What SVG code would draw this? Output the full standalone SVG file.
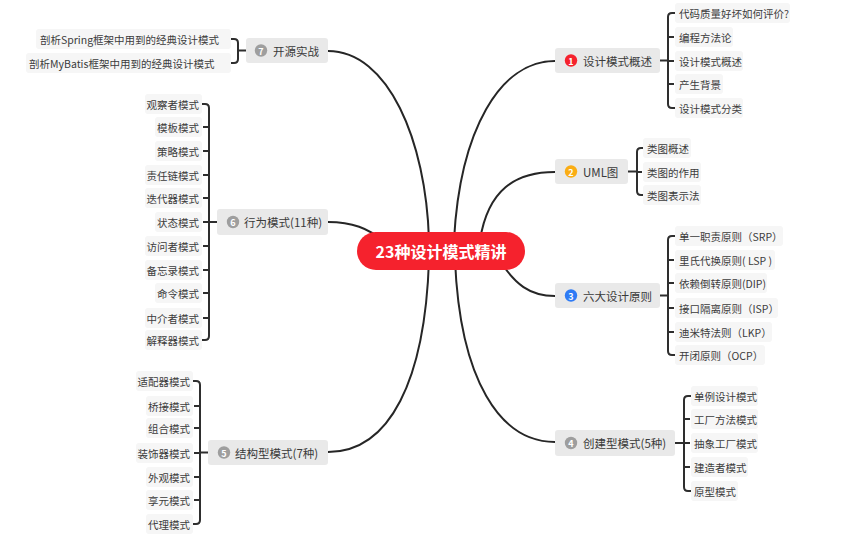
<svg xmlns="http://www.w3.org/2000/svg" width="867" height="557" viewBox="0 0 867 557">
<style>
text{font-family:"Noto Sans CJK SC","Noto Sans",sans-serif;dominant-baseline:central}
.main{fill:none;stroke:#262626;stroke-width:2}
.br{fill:none;stroke:#2e2e2e;stroke-width:2}
.l1 rect{fill:#e9e9e9}
.l1 text.t{font-size:11.5px;fill:#3a3a3a}
.ic text{font-size:9px;font-weight:bold;fill:#fff;text-anchor:middle}
.c rect{fill:#f6f6f6}
.c text{font-size:10.5px;fill:#3c3c3c}
.e text{text-anchor:end}
</style>
<rect width="867" height="557" fill="#fff"/>
<g id="connectors">
<path class="main" d="M328,51 C388,51 426,140 429,240"/>
<path class="main" d="M454,240 C460,130 500,61 555,61"/>
<path class="main" d="M480,240 C488,190 515,172 555,172"/>
<path class="main" d="M328,222 C352,222 368,228 385,242"/>
<path class="main" d="M498,258 C515,285 530,296 555,296"/>
<path class="main" d="M455,260 C460,380 500,442 555,442"/>
<path class="main" d="M429,260 C425,380 390,452 328,452"/>
<path class="br" d="M660,60.5H668M675,13h-3q-4,0 -4,4V104q0,4 4,4h3M668,37h6M668,61h6M668,84h6"/>
<path class="br" d="M628,171.5H637M643,148h-2q-4,0 -4,4V191q0,4 4,4h2M637,172h5"/>
<path class="br" d="M660,295.5H668M675,236h-3q-4,0 -4,4V351q0,4 4,4h3M668,260h6M668,283h6M668,308h6M668,332h6"/>
<path class="br" d="M675,443H684M691,396h-3q-4,0 -4,4V487q0,4 4,4h3M684,419h6M684,443h6M684,467h6"/>
<path class="br" d="M246,50.5H238M231,39h3q4,0 4,4V59q0,4 -4,4h-3"/>
<path class="br" d="M217,222H209M202,104h3q4,0 4,4V336q0,4 -4,4h-3M209,127h-6M209,151h-6M209,175h-6M209,198h-6M209,222h-6M209,246h-6M209,270h-6M209,293h-6M209,318h-6"/>
<path class="br" d="M208,452.5H200M193,381h3q4,0 4,4V520q0,4 -4,4h-3M200,406h-6M200,428h-6M200,453h-6M200,477h-6M200,500h-6"/>
</g>
<g id="root">
<rect x="357" y="232" width="168" height="38" rx="19" fill="#f5222d"/>
<text x="441" y="251" font-size="16" font-weight="bold" fill="#fff" text-anchor="middle">23种设计模式精讲</text>
</g>
<g id="n1" class="l1">
<rect x="555" y="48" width="105" height="25" rx="3"/>
<g class="ic"><circle cx="571" cy="60.5" r="6.2" fill="#f5222d"/><text x="571" y="61">1</text></g>
<text class="t" x="583" y="60.5">设计模式概述</text>
</g>
<g id="n1c" class="c">
<rect x="675" y="3" width="115" height="20" rx="3"/><text x="679" y="13">代码质量好坏如何评价?</text>
<rect x="675" y="27" width="58" height="20" rx="3"/><text x="679" y="37">编程方法论</text>
<rect x="675" y="51" width="68" height="20" rx="3"/><text x="679" y="61">设计模式概述</text>
<rect x="675" y="74" width="48" height="20" rx="3"/><text x="679" y="84">产生背景</text>
<rect x="675" y="98" width="68" height="20" rx="3"/><text x="679" y="108">设计模式分类</text>
</g>
<g id="n2" class="l1">
<rect x="555" y="159" width="73" height="25" rx="3"/>
<g class="ic"><circle cx="571" cy="171.5" r="6.2" fill="#faad14"/><text x="571" y="172">2</text></g>
<text class="t" x="583" y="171.5">UML图</text>
</g>
<g id="n2c" class="c">
<rect x="643" y="138" width="48" height="20" rx="3"/><text x="647" y="148">类图概述</text>
<rect x="643" y="162" width="58" height="20" rx="3"/><text x="647" y="172">类图的作用</text>
<rect x="643" y="185" width="58" height="20" rx="3"/><text x="647" y="195">类图表示法</text>
</g>
<g id="n3" class="l1">
<rect x="555" y="283" width="105" height="25" rx="3"/>
<g class="ic"><circle cx="571" cy="295.5" r="6.2" fill="#2f7bf5"/><text x="571" y="296">3</text></g>
<text class="t" x="583" y="295.5">六大设计原则</text>
</g>
<g id="n3c" class="c">
<rect x="675" y="226" width="108" height="20" rx="3"/><text x="679" y="236">单一职责原则（SRP）</text>
<rect x="675" y="250" width="100" height="20" rx="3"/><text x="679" y="260">里氏代换原则( LSP )</text>
<rect x="675" y="273" width="92" height="20" rx="3"/><text x="679" y="283">依赖倒转原则(DIP)</text>
<rect x="675" y="298" width="103" height="20" rx="3"/><text x="679" y="308">接口隔离原则（ISP）</text>
<rect x="675" y="322" width="97" height="20" rx="3"/><text x="679" y="332">迪米特法则（LKP）</text>
<rect x="675" y="345" width="90" height="20" rx="3"/><text x="679" y="355">开闭原则（OCP）</text>
</g>
<g id="n4" class="l1">
<rect x="555" y="430" width="120" height="26" rx="3"/>
<g class="ic"><circle cx="571" cy="443" r="6.2" fill="#9e9e9e"/><text x="571" y="443.5">4</text></g>
<text class="t" x="583" y="443">创建型模式(5种)</text>
</g>
<g id="n4c" class="c">
<rect x="691" y="386" width="67" height="20" rx="3"/><text x="694" y="396">单例设计模式</text>
<rect x="691" y="409" width="67" height="20" rx="3"/><text x="694" y="419">工厂方法模式</text>
<rect x="691" y="433" width="67" height="20" rx="3"/><text x="694" y="443">抽象工厂模式</text>
<rect x="691" y="457" width="57" height="20" rx="3"/><text x="694" y="467">建造者模式</text>
<rect x="691" y="481" width="47" height="20" rx="3"/><text x="694" y="491">原型模式</text>
</g>
<g id="n5" class="l1">
<rect x="208" y="440" width="120" height="25" rx="3"/>
<g class="ic"><circle cx="224" cy="452.5" r="6.2" fill="#9e9e9e"/><text x="224" y="453">5</text></g>
<text class="t" x="235" y="452.5">结构型模式(7种)</text>
</g>
<g id="n5c" class="c e">
<rect x="136" y="371" width="57" height="20" rx="3"/><text x="190" y="381">适配器模式</text>
<rect x="146" y="396" width="47" height="20" rx="3"/><text x="190" y="406">桥接模式</text>
<rect x="146" y="418" width="47" height="20" rx="3"/><text x="190" y="428">组合模式</text>
<rect x="136" y="443" width="57" height="20" rx="3"/><text x="190" y="453">装饰器模式</text>
<rect x="146" y="467" width="47" height="20" rx="3"/><text x="190" y="477">外观模式</text>
<rect x="146" y="490" width="47" height="20" rx="3"/><text x="190" y="500">享元模式</text>
<rect x="146" y="514" width="47" height="20" rx="3"/><text x="190" y="524">代理模式</text>
</g>
<g id="n6" class="l1">
<rect x="217" y="209" width="111" height="26" rx="3"/>
<g class="ic"><circle cx="233" cy="222" r="6.2" fill="#9e9e9e"/><text x="233" y="222.5">6</text></g>
<text class="t" x="244" y="222">行为模式(11种)</text>
</g>
<g id="n6c" class="c e">
<rect x="145" y="94" width="57" height="20" rx="3"/><text x="199" y="104">观察者模式</text>
<rect x="155" y="117" width="47" height="20" rx="3"/><text x="199" y="127">模板模式</text>
<rect x="155" y="141" width="47" height="20" rx="3"/><text x="199" y="151">策略模式</text>
<rect x="145" y="165" width="57" height="20" rx="3"/><text x="199" y="175">责任链模式</text>
<rect x="145" y="188" width="57" height="20" rx="3"/><text x="199" y="198">迭代器模式</text>
<rect x="155" y="212" width="47" height="20" rx="3"/><text x="199" y="222">状态模式</text>
<rect x="145" y="236" width="57" height="20" rx="3"/><text x="199" y="246">访问者模式</text>
<rect x="145" y="260" width="57" height="20" rx="3"/><text x="199" y="270">备忘录模式</text>
<rect x="155" y="283" width="47" height="20" rx="3"/><text x="199" y="293">命令模式</text>
<rect x="145" y="308" width="57" height="20" rx="3"/><text x="199" y="318">中介者模式</text>
<rect x="145" y="330" width="57" height="20" rx="3"/><text x="199" y="340">解释器模式</text>
</g>
<g id="n7" class="l1">
<rect x="246" y="38" width="82" height="25" rx="3"/>
<g class="ic"><circle cx="261" cy="50.5" r="6.2" fill="#9e9e9e"/><text x="261" y="51">7</text></g>
<text class="t" x="273" y="50.5">开源实战</text>
</g>
<g id="n7c" class="c">
<rect x="36" y="29" width="195" height="20" rx="3"/><text x="40" y="39">剖析Spring框架中用到的经典设计模式</text>
<rect x="26" y="53" width="205" height="20" rx="3"/><text x="29" y="63">剖析MyBatis框架中用到的经典设计模式</text>
</g>
</svg>
